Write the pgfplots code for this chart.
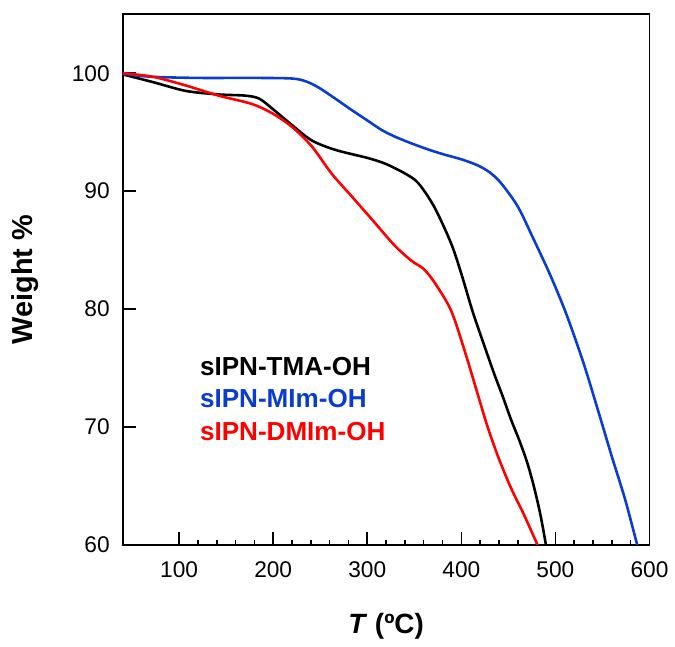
\documentclass[border=0pt]{standalone}
\usepackage{pgfplots}
\pgfplotsset{compat=1.18}
\usepackage{fontspec}
\setmainfont{Liberation Sans}

\definecolor{tgablue}{HTML}{0A3CD2}
\definecolor{tgared}{HTML}{FF0000}

\begin{document}
\begin{tikzpicture}
\begin{axis}[
    at={(0,0)}, anchor=south west,
    scale only axis,
    width=264.7pt,
    height=266.7pt,
    xmin=40, xmax=600,
    ymin=60, ymax=105,
    xtick={100,200,300,400,500,600},
    ytick={60,70,80,90,100},
    minor x tick num=4,
    tick align=inside,
    xtick pos=bottom,
    ytick pos=left,
    major tick length=6.5pt,
    minor tick length=2.7pt,
    axis line style={line width=0.9pt},
    every tick/.style={line width=0.8pt, black},
    /pgf/number format/assume math mode=true,
    tick label style={font=\fontsize{11.4}{13}\selectfont},
    xticklabel style={yshift=-5pt},
    yticklabel style={xshift=-3pt},
    xlabel={\textit{T} (ºC)},
    ylabel={Weight \%},
    every axis x label/.style={at={(axis description cs:0.5,-0.154)}, anchor=center,
        font=\fontsize{14}{16}\selectfont\bfseries},
    every axis y label/.style={at={(axis description cs:-0.185,0.5)}, anchor=center, rotate=90,
        font=\fontsize{14.5}{16}\selectfont\bfseries},
]
% sIPN-TMA-OH
\addplot[black, line width=1.3pt, smooth, tension=0.5] coordinates {
(40,99.9) (72,99.25) (107,98.5) (142,98.2) (170,98.1) (185,97.85)
(199,97.0) (220,95.6) (241,94.3) (266,93.5) (301,92.8) (320,92.3)
(340,91.5) (354,90.7) (371,88.7) (389,85.6) (400,83.0) (412,79.8)
(424,77.0) (435,74.5) (444,72.6) (453,70.6) (462,68.8) (470,67.0)
(477,65.0) (484,62.6) (490,60.0)
};
% sIPN-MIm-OH
\addplot[tgablue, line width=1.3pt, smooth, tension=0.5] coordinates {
(40,99.95) (70,99.7) (120,99.6) (180,99.6) (220,99.55) (235,99.3)
(248,98.8) (265,97.9) (283,96.9) (300,96.0) (315,95.2) (330,94.6)
(347,94.05) (366,93.5) (382,93.1) (400,92.7) (417,92.2) (430,91.6)
(442,90.7) (460,88.7) (477,85.9) (495,82.8) (512,79.5) (530,75.4)
(545,71.5) (560,67.5) (574,63.9) (587,60.0)
};
% sIPN-DMIm-OH
\addplot[tgared, line width=1.3pt, smooth, tension=0.5] coordinates {
(40,100.0) (72,99.7) (107,98.96) (142,98.1) (177,97.4) (199,96.6)
(220,95.45) (241,93.8) (262,91.5) (283,89.6) (305,87.6) (329,85.4)
(347,84.1) (360,83.4) (372,82.2) (389,79.9) (403,76.6) (417,72.9)
(428,70.0) (440,67.3) (453,64.8) (467,62.5) (481,60.0)
};
\node[anchor=west, black, font=\fontsize{13.1}{15}\selectfont\bfseries] at (axis cs:114.8,75.1) {sIPN-TMA-OH};
\node[anchor=west, tgablue, font=\fontsize{13.1}{15}\selectfont\bfseries] at (axis cs:114.8,72.4) {sIPN-MIm-OH};
\node[anchor=west, tgared, font=\fontsize{13.1}{15}\selectfont\bfseries] at (axis cs:114.8,69.65) {sIPN-DMIm-OH};
\end{axis}
\path (-61.65pt,-49.15pt) rectangle (275.85pt,273.85pt);
\end{tikzpicture}
\end{document}
